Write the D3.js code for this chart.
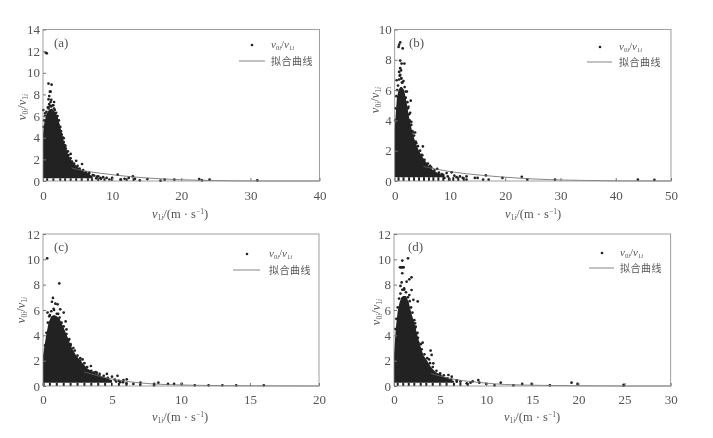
<!DOCTYPE html>
<html>
<head>
<meta charset="utf-8">
<script src="https://d3js.org/d3.v7.min.js"></script>
<style>
  html, body { margin: 0; padding: 0; background: #fff; }
  svg { display: block; filter: blur(0.45px); }
  text { font-family: "Liberation Serif", serif; fill: #555; }
  .cjk { font-family: "Noto Sans CJK SC", sans-serif; letter-spacing: 0.5px; }
</style>
</head>
<body>
<div id="chart"></div>
<script>
// values, one group of arrays per panel
// core = the solid part of the cloud (x, upper edge), pts = single dots, edge = dots round the cloud,
// fit = fitted curve, base = dots along the bottom row

var aXTicks = [0, 10, 20, 30, 40], aYTicks = [0, 2, 4, 6, 8, 10, 12, 14];
var aCoreX = [0, 0.2, 0.5, 0.9, 1.3, 1.7, 2.1, 2.5, 3, 3.6, 4.2, 5, 6, 7];
var aCoreTop = [4.4, 5.4, 6.2, 6.6, 6.7, 6.4, 6, 5, 3.7, 2.5, 1.8, 1.3, 0.8, 0.5];
var aPtsX = [0.4, 0.55, 0.8, 1.25, 1, 1.1, 0.9, 0.8, 1.1, 1.6, 1.5, 0.05, 0.3, 1, 0.8, 1.7, 1.9, 2.1, 2.2, 2.4, 2.7, 3, 3.2, 3.6, 4, 4.8, 5.65, 4.9, 5.9, 3.4, 2.9, 3.8, 4.4, 5.2, 5.5, 6.3, 6.7, 7, 7.4, 7.7, 8, 8.3, 8.7, 9.2, 9.6, 10, 10.8, 11.2, 11.8, 12.4, 13, 13.3, 14, 15.1, 17, 17.6, 19, 22.6, 23, 24.1, 31];
var aPtsY = [11.85, 11.8, 9, 8.9, 8.25, 8.25, 7.85, 7.55, 7.3, 7.3, 7, 6.55, 6.25, 6.9, 6.7, 6.55, 5.95, 5.35, 4.9, 4.35, 3.95, 3.95, 3.2, 2.75, 2.5, 1.87, 1.57, 1, 0.75, 2.3, 3.3, 1.7, 1.3, 0.85, 0.5, 0.65, 0.75, 0.35, 0.5, 0.25, 0.42, 0.28, 0.35, 0.28, 0.14, 0.28, 0.58, 0.12, 0.2, 0.28, 0.43, 0.2, 0.06, 0.18, 0.03, 0.12, 0.12, 0.18, 0.06, 0.12, 0.06];
var aEdgeX = [1.9, 2.1, 2.3, 2.2, 2.5, 2.6, 2.7, 2.9, 3, 3.2, 3.3, 3.5, 3.7, 4, 4.2, 4.5, 5, 5.3, 5.8, 6.2, 6.6, 7.2, 7.8, 8.4, 0.1, 0.15, 0.3, 0.5, 0.7, 1.2, 1.4, 1.6, 0.9, 1.2];
var aEdgeY = [6.3, 6, 5.6, 5.2, 5, 4.6, 4.3, 4, 3.6, 3.3, 3, 2.7, 2.4, 2.1, 1.8, 1.6, 1.4, 1.15, 1, 0.8, 0.65, 0.55, 0.4, 0.2, 5, 5.6, 6, 6.4, 6.8, 6.9, 7, 6.7, 7.1, 7.5];
var aFitX = [4.15, 5.85, 8.3, 10.8, 15, 19.9, 25, 31.4, 40];
var aFitY = [1.2, 0.95, 0.72, 0.52, 0.28, 0.12, 0.04, 0, 0];
var aBaseX = [0.6, 1.5, 2.5, 3.2, 4, 4.8, 5.6, 6.5, 7.1, 8, 8.9, 10, 11.3, 12.1, 13.1];

var bXTicks = [0, 10, 20, 30, 40, 50], bYTicks = [0, 2, 4, 6, 8, 10];
var bCoreX = [0, 0.2, 0.4, 0.7, 1, 1.3, 1.7, 2.1, 2.6, 3.2, 3.8, 4.5, 5.2, 6, 7, 8, 9];
var bCoreTop = [3.4, 4.5, 5.5, 6, 6.2, 6.2, 6, 5.3, 4.2, 3.2, 2.5, 1.9, 1.5, 1.05, 0.7, 0.5, 0.32];
var bPtsX = [1, 0.8, 0.7, 1.45, 1, 1.25, 1.75, 1, 1.15, 0.35, 0.9, 1.2, 1.4, 2.2, 2.9, 2.5, 2.8, 3, 3.4, 3.7, 3.9, 5.1, 4.3, 4.9, 5.7, 6.4, 7.7, 9.4, 10.3, 8.5, 9, 10.8, 11.2, 11.8, 12.3, 13, 13, 14.5, 15, 16.5, 16, 17, 19.5, 23, 24, 29, 44, 47];
var bPtsY = [9.15, 9, 8.85, 8.75, 7.95, 7.75, 7.75, 7.45, 7.3, 6.65, 6.95, 6.75, 6.5, 5.9, 5.3, 4.9, 4.5, 3.9, 3.2, 3.2, 2.5, 2.28, 1.85, 1.73, 1.14, 1, 0.8, 0.52, 0.57, 0.45, 0.2, 0.35, 0.25, 0.3, 0.2, 0.3, 0.09, 0.2, 0.2, 0.37, 0.09, 0.09, 0.2, 0.28, 0.09, 0.09, 0.09, 0.07];
var bEdgeX = [1.6, 1.8, 2, 2, 2.3, 2.4, 2.6, 2.7, 3, 3.2, 3.5, 3.8, 4.2, 4.6, 5, 5.4, 6, 6.6, 7.2, 8, 8.8, 9.6, 0.1, 0.15, 0.3, 0.45, 0.6, 0.8, 1, 1.2, 0.8, 1.3];
var bEdgeY = [6.6, 6.2, 5.9, 5.5, 5.2, 4.8, 4.4, 4, 3.7, 3.3, 3, 2.6, 2.3, 2, 1.7, 1.4, 1.15, 0.9, 0.7, 0.55, 0.4, 0.3, 4, 4.8, 5.6, 6, 6.3, 6.7, 7, 6.8, 7.2, 6.5];
var bFitX = [5.2, 10, 16, 22, 28, 34, 40, 50];
var bFitY = [0.96, 0.62, 0.37, 0.2, 0.09, 0.04, 0.01, 0];
var bBaseX = [0.7, 1.6, 2.6, 3.5, 4.4, 5.3, 6.2, 7, 7.9, 8.8, 9.8, 10.6, 11.5, 12.5];

var cXTicks = [0, 5, 10, 15, 20], cYTicks = [0, 2, 4, 6, 8, 10, 12];
var cCoreX = [0, 0.2, 0.4, 0.6, 0.8, 1, 1.2, 1.5, 1.8, 2, 2.4, 2.8, 3.2, 3.6, 4, 4.4, 5];
var cCoreTop = [2.4, 3.8, 5, 5.5, 5.6, 5.5, 5.3, 4.6, 3.8, 3.2, 2.4, 1.9, 1.4, 1.1, 0.9, 0.7, 0.45];
var cPtsX = [0.3, 1.18, 0.72, 0.65, 0.9, 1.06, 0.77, 1.25, 1.5, 0.33, 0.5, 1.1, 1.64, 1.7, 1.85, 2, 2.2, 2.7, 2.87, 3.47, 3.2, 3.66, 3.9, 4.1, 4.63, 5, 5.4, 5.83, 6.07, 6.05, 5.3, 5.6, 4.6, 6.55, 7.06, 7.05, 8.05, 8.05, 8.36, 9.06, 9.5, 10.05, 11, 12, 13, 14, 16];
var cPtsY = [10.08, 8.1, 6.95, 6.65, 6.5, 6.45, 6.1, 6.05, 5.8, 5.8, 5.6, 5.7, 5.1, 4.47, 3.6, 3.3, 3, 2.2, 2.1, 1.58, 1.1, 1.05, 1.05, 0.74, 0.95, 0.74, 0.8, 0.47, 0.53, 0.2, 0.35, 0.3, 0.4, 0.16, 0.26, 0.08, 0.16, 0.05, 0.26, 0.16, 0.16, 0.16, 0.05, 0.05, 0.05, 0.05, 0.05];
var cEdgeX = [0.15, 0.25, 0.35, 0.45, 0.6, 0.8, 1, 1.2, 1.35, 1.5, 1.7, 1.9, 2, 2.3, 2.5, 2.7, 3, 3.2, 3.5, 3.8, 4.1, 4.4, 4.7, 5.2, 5.5, 5.8];
var cEdgeY = [3.2, 4.2, 5, 5.5, 5.9, 6, 5.7, 5.4, 5, 4.7, 4.1, 3.7, 3.2, 2.8, 2.4, 2, 1.8, 1.5, 1.2, 1.1, 0.95, 0.8, 0.65, 0.5, 0.4, 0.3];
var cFitX = [3, 5, 7, 10, 14, 20];
var cFitY = [1.1, 0.55, 0.25, 0.08, 0.02, 0];
var cBaseX = [0.05, 0.5, 1, 1.5, 2, 2.5, 3, 3.5, 4, 4.5, 5, 5.5, 6.05];

var dXTicks = [0, 5, 10, 15, 20, 25, 30], dYTicks = [0, 2, 4, 6, 8, 10, 12];
var dCoreX = [0, 0.2, 0.4, 0.6, 0.8, 1, 1.3, 1.6, 1.9, 2.2, 2.5, 2.8, 3.2, 3.6, 4, 4.5, 5, 5.5, 6.5];
var dCoreTop = [2.5, 4.6, 5.9, 6.6, 7, 7.1, 7.1, 6.6, 5.7, 5, 4.1, 3.3, 2.4, 2, 1.5, 1.1, 0.9, 0.7, 0.4];
var dPtsX = [1.52, 0.9, 0.65, 0.75, 0.85, 0.95, 1.05, 0.9, 1.9, 1.66, 1.37, 0.83, 2.57, 1.9, 1.66, 2.1, 0.7, 1.1, 2.28, 2.35, 2.46, 2.64, 3.1, 3.97, 4.08, 3.8, 3.25, 4.26, 3.4, 5, 5.9, 6.26, 5.5, 6.8, 7.88, 8.3, 8.53, 9.14, 9.25, 10, 10.9, 11.57, 12.95, 13.9, 14.93, 16.9, 19.25, 19.9, 24.9, 24.9];
var dPtsY = [10.08, 9.9, 9.37, 9.37, 9.37, 9.37, 9.37, 8.9, 8.58, 8.42, 8.24, 8.18, 6.68, 7.58, 7.18, 6.8, 7.9, 7.7, 4.95, 4.68, 4.16, 3.42, 3.42, 2.8, 2.45, 2.1, 1.84, 1.79, 1.26, 0.87, 0.87, 0.74, 0.6, 0.34, 0.21, 0.26, 0.37, 0.47, 0.26, 0.16, 0.05, 0.26, 0.05, 0.16, 0.16, 0.05, 0.26, 0.16, 0.1, 0.02];
var dEdgeX = [0.15, 0.25, 0.4, 0.55, 0.7, 0.9, 1.1, 1.3, 1.5, 1.7, 1.85, 2, 2.2, 2.3, 2.55, 2.6, 2.9, 3, 3.3, 3.6, 3.9, 4.2, 4.6, 5, 5.4, 5.8, 6.2, 6.8, 7.2];
var dEdgeY = [4.5, 5.3, 6.2, 6.9, 7.3, 7.6, 7.6, 7.4, 7, 6.7, 6.2, 5.8, 5.2, 4.6, 4.2, 3.8, 3.3, 2.9, 2.5, 2.2, 1.8, 1.5, 1.2, 1, 0.85, 0.6, 0.5, 0.45, 0.35];
var dFitX = [4, 6, 9, 12, 16, 20, 25, 30];
var dFitY = [1, 0.6, 0.3, 0.12, 0.05, 0.02, 0, 0];
var dBaseX = [0.4, 1, 1.6, 2.2, 2.9, 3.5, 4.2, 5, 5.7, 6.5, 7.2, 8];

var svg = d3.select('#chart').append('svg')
    .attr('width', 713)
    .attr('height', 438);

var panels = [
    { tag: '(a)', left: 43, right: 319.5, top: 29.5, bottom: 181, xMax: 40, yMax: 14, xTicks: aXTicks, yTicks: aYTicks,
      coreX: aCoreX, coreTop: aCoreTop, ptsX: aPtsX.concat(aEdgeX), ptsY: aPtsY.concat(aEdgeY), fitX: aFitX, fitY: aFitY, baseX: aBaseX,
      tagX: 54, tagY: 47, dotX: 252, dotY: 45, lineX: [239, 265], lineY: 61, legX: 271, yTitleX: 22, yTitleY: 107, xTitleX: 180, tickY: 199.5, xTitleY: 218 },
    { tag: '(b)', left: 394.7, right: 671, top: 29.5, bottom: 181, xMax: 50, yMax: 10, xTicks: bXTicks, yTicks: bYTicks,
      coreX: bCoreX, coreTop: bCoreTop, ptsX: bPtsX.concat(bEdgeX), ptsY: bPtsY.concat(bEdgeY), fitX: bFitX, fitY: bFitY, baseX: bBaseX,
      tagX: 409, tagY: 47, dotX: 600, dotY: 47, lineX: [587, 612], lineY: 62, legX: 619, yTitleX: 375, yTitleY: 100, xTitleX: 533, tickY: 199.5, xTitleY: 218 },
    { tag: '(c)', left: 43, right: 319, top: 234, bottom: 386, xMax: 20, yMax: 12, xTicks: cXTicks, yTicks: cYTicks,
      coreX: cCoreX, coreTop: cCoreTop, ptsX: cPtsX.concat(cEdgeX), ptsY: cPtsY.concat(cEdgeY), fitX: cFitX, fitY: cFitY, baseX: cBaseX,
      tagX: 54, tagY: 251, dotX: 247, dotY: 254, lineX: [233, 260], lineY: 270, legX: 269, yTitleX: 21, yTitleY: 310, xTitleX: 180, tickY: 404, xTitleY: 421 },
    { tag: '(d)', left: 394, right: 670.7, top: 234, bottom: 386, xMax: 30, yMax: 12, xTicks: dXTicks, yTicks: dYTicks,
      coreX: dCoreX, coreTop: dCoreTop, ptsX: dPtsX.concat(dEdgeX), ptsY: dPtsY.concat(dEdgeY), fitX: dFitX, fitY: dFitY, baseX: dBaseX,
      tagX: 408, tagY: 251, dotX: 602, dotY: 253, lineX: [589, 614], lineY: 268, legX: 620, yTitleX: 376, yTitleY: 312, xTitleX: 532, tickY: 404, xTitleY: 421 }
];

// v with two subscripts, used by titles and legend
function addRatio(t, size) {
    t.append('tspan').attr('font-style', 'italic').attr('font-size', size).text('v');
    t.append('tspan').attr('font-size', size * 0.6).attr('dy', 2).text('0');
    t.append('tspan').attr('font-style', 'italic').attr('font-size', size * 0.6).text('i');
    t.append('tspan').attr('font-size', size).attr('dy', -2).text('/');
    t.append('tspan').attr('font-style', 'italic').attr('font-size', size).text('v');
    t.append('tspan').attr('font-size', size * 0.6).attr('dy', 2).text('1');
    t.append('tspan').attr('font-style', 'italic').attr('font-size', size * 0.6).text('i');
}

panels.forEach(function (p) {
    var xScale = d3.scaleLinear().domain([0, p.xMax]).range([p.left, p.right]);
    var yScale = d3.scaleLinear().domain([0, p.yMax]).range([p.bottom, p.top]);
    var g = svg.append('g');

    // solid part of the cloud
    var area = d3.area()
        .x(function (d, i) { return xScale(p.coreX[i]); })
        .y0(yScale(0.25))
        .y1(function (d) { return yScale(d); });
    g.append('path').attr('d', area(p.coreTop)).attr('fill', '#222');

    // single dots
    g.selectAll('.pt').data(p.ptsX).enter().append('circle')
        .attr('class', 'pt')
        .attr('cx', function (d) { return xScale(d); })
        .attr('cy', function (d, i) { return yScale(p.ptsY[i]); })
        .attr('r', 1.35)
        .attr('fill', '#222');

    // bottom row of dots
    g.selectAll('.base').data(p.baseX).enter().append('rect')
        .attr('class', 'base')
        .attr('x', function (d) { return xScale(d) - 1; })
        .attr('y', yScale(0.25))
        .attr('width', 2)
        .attr('height', yScale(0) - yScale(0.25))
        .attr('fill', '#222');

    // fitted curve
    var line = d3.line()
        .x(function (d, i) { return xScale(p.fitX[i]); })
        .y(function (d) { return yScale(d); })
        .curve(d3.curveMonotoneX);
    g.append('path').attr('d', line(p.fitY))
        .attr('fill', 'none')
        .attr('stroke', '#666')
        .attr('stroke-width', 0.8);

    // frame
    g.append('rect')
        .attr('x', p.left).attr('y', p.top)
        .attr('width', p.right - p.left).attr('height', p.bottom - p.top)
        .attr('fill', 'none')
        .attr('stroke', '#888')
        .attr('stroke-width', 0.8);

    // axes, ticks point inward
    var xAxis = d3.axisBottom(xScale).tickValues(p.xTicks).tickSize(-3).tickPadding(0).tickFormat(d3.format('d'));
    var yAxis = d3.axisLeft(yScale).tickValues(p.yTicks).tickSize(-3).tickPadding(3).tickFormat(d3.format('d'));

    var xg = g.append('g').attr('transform', 'translate(0,' + p.bottom + ')').call(xAxis);
    var yg = g.append('g').attr('transform', 'translate(' + p.left + ',0)').call(yAxis);
    xg.select('.domain').remove();
    yg.select('.domain').remove();
    xg.selectAll('line').attr('stroke', '#777');
    yg.selectAll('line').attr('stroke', '#777');
    xg.selectAll('text').attr('y', p.tickY - p.bottom).attr('dy', null).attr('font-size', 13).style('font-family', '"Liberation Serif", serif');
    yg.selectAll('text').attr('font-size', 13).style('font-family', '"Liberation Serif", serif');

    // panel letter
    g.append('text').attr('x', p.tagX).attr('y', p.tagY).attr('font-size', 13).text(p.tag);

    // x title
    var xt = g.append('text').attr('x', p.xTitleX).attr('y', p.xTitleY).attr('text-anchor', 'middle');
    xt.append('tspan').attr('font-style', 'italic').attr('font-size', 12.5).text('v');
    xt.append('tspan').attr('font-size', 7.5).attr('dy', 2).text('1');
    xt.append('tspan').attr('font-style', 'italic').attr('font-size', 7.5).text('i');
    xt.append('tspan').attr('font-size', 12.5).attr('dy', -2).text('/(m · s');
    xt.append('tspan').attr('font-size', 7.5).attr('dy', -4).text('−1');
    xt.append('tspan').attr('font-size', 12.5).attr('dy', 4).text(')');

    // y title
    var yt = g.append('text')
        .attr('text-anchor', 'middle')
        .attr('transform', 'translate(' + (p.yTitleX + 4) + ',' + p.yTitleY + ') rotate(-90)');
    addRatio(yt, 12.5);

    // legend
    g.append('circle').attr('cx', p.dotX).attr('cy', p.dotY).attr('r', 1.3).attr('fill', '#222');
    g.append('line')
        .attr('x1', p.lineX[0]).attr('x2', p.lineX[1])
        .attr('y1', p.lineY).attr('y2', p.lineY)
        .attr('stroke', '#666')
        .attr('stroke-width', 0.8);
    addRatio(g.append('text').attr('x', p.legX).attr('y', p.dotY + 3), 11);
    g.append('text').attr('class', 'cjk')
        .attr('x', p.legX).attr('y', p.lineY + 4)
        .attr('font-size', 10)
        .text('拟合曲线');
});
</script>
</body>
</html>
